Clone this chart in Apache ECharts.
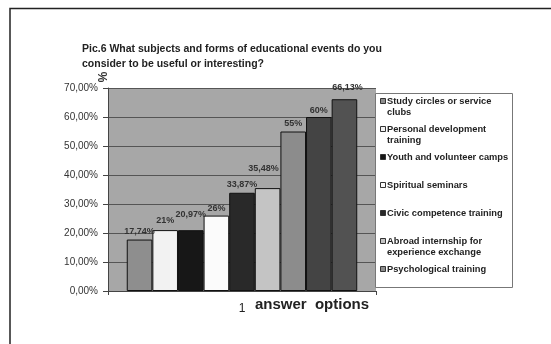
<!DOCTYPE html>
<html>
<head>
<meta charset="utf-8">
<script src="https://cdn.jsdelivr.net/npm/echarts@6/dist/echarts.min.js"></script>
<style>
  html, body { margin: 0; padding: 0; background: #fff; }
  #chart { width: 551px; height: 344px; }
</style>
</head>
<body>
<div id="chart"></div>
<script>
// Survey results: share of respondents naming each event type
const categories = ['1'];
const optionNames = [
  'Study circles or service\nclubs',
  'Personal development\ntraining',
  'Youth and volunteer camps',
  'Spiritual seminars',
  'Civic competence training',
  'Abroad internship for\nexperience exchange',
  'Psychological training',
  'Option 8',
  'Option 9'
];
const values = [17.74, 21, 20.97, 26, 33.87, 35.48, 55, 60, 66.13];
const valueLabels = ['17,74%', '21%', '20,97%', '26%', '33,87%', '35,48%', '55%', '60%', '66,13%'];
const yTicks = [0, 10, 20, 30, 40, 50, 60, 70];
const legendCount = 7;

// styling
const barColors = ['#8e8e8e', '#f2f2f2', '#171717', '#fbfbfb', '#292929', '#c4c4c4', '#8c8c8c', '#444444', '#525252'];
const labelOffsets = [[0, 0], [0, -1], [0, -7], [0, 1], [0, 0], [-4, -11], [0, 1], [0, 2], [3, -3]];
const FONT = '"Liberation Sans", Arial, sans-serif';

const chart = echarts.init(document.getElementById('chart'), null, { renderer: 'canvas' });

const series = values.map((v, i) => ({
  type: 'bar',
  name: optionNames[i],
  data: [v],
  barGap: '0%',
  barCategoryGap: '14%',
  itemStyle: { color: barColors[i], borderColor: '#111', borderWidth: 1 },
  label: {
    show: true,
    position: 'top',
    distance: 4,
    offset: labelOffsets[i],
    formatter: () => valueLabels[i],
    fontFamily: FONT,
    fontSize: 9,
    fontWeight: 'bold',
    color: '#333'
  },
  silent: true
}));

// legend drawn as a boxed list of swatches and names
const legendX = 375, legendY = 93, legendStep = 28;
const legendItems = [];
for (let i = 0; i < legendCount; i++) {
  const y = legendY + 3 + i * legendStep;
  legendItems.push({
    type: 'rect',
    z: 7,
    shape: { x: legendX + 5.5, y: y + 2.5, width: 5, height: 5 },
    style: { fill: barColors[i], stroke: '#333', lineWidth: 1 }
  });
  legendItems.push({
    type: 'text',
    z: 7,
    x: legendX + 12, y: y,
    style: {
      text: optionNames[i],
      font: 'bold 9.3px ' + FONT,
      fill: '#222',
      lineHeight: 11,
      verticalAlign: 'top'
    }
  });
}

const option = {
  animation: false,
  backgroundColor: '#ffffff',
  title: {
    text: 'Pic.6 What subjects and forms of educational events do you\nconsider to be useful or interesting?',
    left: 77, top: 37,
    textStyle: {
      fontFamily: FONT,
      fontSize: 10.5, fontWeight: 'bold', color: '#222', lineHeight: 14.5
    }
  },
  grid: {
    left: 108, right: 175, top: 88, bottom: 53,
    show: true, backgroundColor: '#a7a7a7', borderWidth: 0
  },
  xAxis: {
    type: 'category',
    data: categories,
    name: 'answer  options',
    nameLocation: 'middle',
    nameGap: 6,
    nameMoveOverlap: false,
    nameTextStyle: {
      fontFamily: FONT,
      fontSize: 15, fontWeight: 'bold', color: '#222',
      padding: [0, 0, 0, 140]
    },
    axisLine: { lineStyle: { color: '#444', width: 1 } },
    axisTick: { show: true, length: 4, lineStyle: { color: '#444' } },
    axisLabel: {
      margin: 12,
      fontFamily: FONT,
      fontSize: 12, color: '#222'
    }
  },
  yAxis: {
    type: 'value',
    min: yTicks[0],
    max: yTicks[yTicks.length - 1],
    interval: 10,
    axisLine: { show: true, lineStyle: { color: '#444', width: 1 } },
    axisTick: { show: true, length: 5, lineStyle: { color: '#444' } },
    splitLine: { lineStyle: { color: '#555', width: 1 } },
    axisLabel: {
      margin: 10,
      formatter: v => v.toFixed(2).replace('.', ',') + '%',
      fontFamily: FONT,
      fontSize: 10, color: '#333'
    }
  },
  series: series,
  graphic: [
    // page frame
    { type: 'polyline', z: 10, shape: { points: [[10, 344], [10, 8.5], [551, 8.5]] },
      style: { stroke: '#222', lineWidth: 1.5, fill: null } },
    // unit mark above the value axis
    { type: 'text', z: 10, x: 101, y: 77, rotation: -Math.PI / 2,
      style: { text: '%', font: 'bold 12px ' + FONT, fill: '#333', align: 'center', verticalAlign: 'middle' } },
    // legend box
    { type: 'rect', z: 5, shape: { x: legendX + 0.5, y: legendY + 0.5, width: 137, height: 194 },
      style: { fill: '#ffffff', stroke: '#777', lineWidth: 1 } },
    { type: 'group', z: 7, children: legendItems }
  ]
};

chart.setOption(option);
</script>
</body>
</html>
